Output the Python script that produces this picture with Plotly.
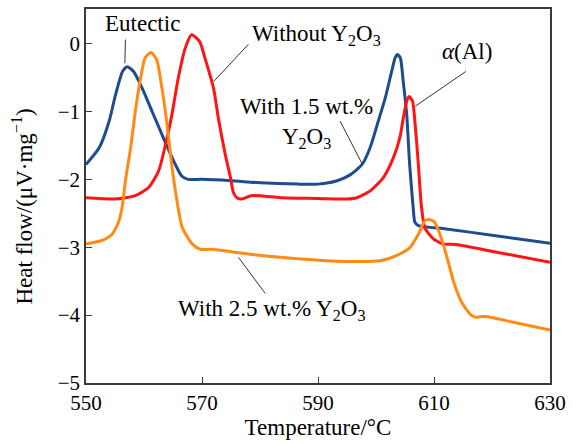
import plotly.graph_objects as go

# Temperature (°C) / heat flow (µV·mg^-1)
x_without = [550, 555.1, 558.5, 560.8, 562.5, 563.6, 564.8, 565.9, 567.1, 568.2, 569.6, 570.5,
             571.2, 572.0, 572.9, 574.0, 574.9, 575.4, 576.0, 576.8, 578.5, 583.6, 590, 595,
             596.7, 599.0, 601.3, 603.0, 604.1, 604.7, 605.3, 605.7, 606.3, 606.7, 607.3, 607.8,
             608.4, 609.8, 611.5, 613.8, 620.6, 630]
y_without = [-2.27, -2.29, -2.24, -2.12, -1.88, -1.53, -1.05, -0.51, -0.07, 0.13, 0.03, -0.21,
             -0.41, -0.66, -1.14, -1.63, -1.97, -2.19, -2.27, -2.29, -2.24, -2.27, -2.28, -2.29,
             -2.27, -2.17, -1.97, -1.68, -1.39, -1.10, -0.85, -0.78, -0.85, -1.14, -1.78, -2.37,
             -2.71, -2.87, -2.95, -2.96, -3.07, -3.22]

x_15 = [550, 552.3, 554.0, 555.1, 556.3, 557.1, 558.2, 559.7, 561.4, 563.6, 565.4, 566.5,
        567.6, 570, 575, 580, 586.5, 590, 593.3, 595.6, 597.6, 599.0, 600.4, 601.6, 602.7,
        603.3, 603.7, 604.2, 604.7, 605.3, 605.8, 606.4, 606.7, 607.3, 612.1, 620.6, 630]
y_15 = [-1.78, -1.53, -1.14, -0.75, -0.41, -0.34, -0.41, -0.66, -1.0, -1.44, -1.78, -1.95,
        -2.0, -2.0, -2.02, -2.05, -2.07, -2.07, -2.02, -1.93, -1.78, -1.53, -1.14, -0.80, -0.41,
        -0.21, -0.16, -0.21, -0.56, -1.05, -1.78, -2.41, -2.63, -2.68, -2.73, -2.83, -2.94]

x_25 = [550, 552.8, 554.5, 555.7, 556.3, 556.8, 557.7, 558.5, 559.4, 560.2, 561.2, 562.2,
        563.1, 563.9, 564.7, 565.5, 566.6, 568.3, 569.7, 571.7, 578.0, 586.5, 595, 600.7,
        603.6, 605.8, 607.3, 608.4, 609.1, 610.1, 611.2, 612.4, 613.5, 614.9, 616.4, 617.2,
        618.9, 623.5, 630]
y_25 = [-2.95, -2.90, -2.81, -2.61, -2.37, -2.02, -1.53, -1.0, -0.51, -0.21, -0.13, -0.24,
        -0.66, -1.14, -1.73, -2.22, -2.71, -2.95, -3.03, -3.03, -3.10, -3.17, -3.21, -3.20,
        -3.12, -3.01, -2.81, -2.61, -2.59, -2.63, -2.85, -3.20, -3.54, -3.83, -4.0, -4.03,
        -4.02, -4.10, -4.22]

x_ticks = [550, 570, 590, 610, 630]
y_ticks = [0, -1, -2, -3, -4, -5]

FONT = "Liberation Serif, Times New Roman, serif"
AX = "#3a3a3a"

fig = go.Figure()
series = [
    (x_15, y_15, "With 1.5 wt.% Y2O3", "#1d4c90"),
    (x_without, y_without, "Without Y2O3", "#ff1414"),
    (x_25, y_25, "With 2.5 wt.% Y2O3", "#ff8a14"),
]
for xs, ys, nm, col in series:
    fig.add_trace(go.Scatter(x=xs, y=ys, mode="lines", name=nm,
                             line=dict(color=col, width=3, shape="spline", smoothing=0.6)))

# leader lines
leaders = [
    (556.8, 0.06, 556.7, -0.29),
    (578.0, -0.01, 572.0, -0.56),
    (593.8, -1.14, 597.6, -1.77),
    (615.5, -0.41, 606.8, -0.92),
    (580.9, -3.68, 576.3, -3.15),
]
for x0, y0, x1, y1 in leaders:
    fig.add_shape(type="line", x0=x0, y0=y0, x1=x1, y1=y1, xref="x", yref="y",
                  line=dict(color="#333333", width=1))

ann = [
    (559.7, 0.29, "Eutectic", "center"),
    (578.3, 0.13, "Without Y<sub>2</sub>O<sub>3</sub>", "left"),
    (588.0, -1.17, "With 1.5 wt.%<br>Y<sub>2</sub>O<sub>3</sub>", "center"),
    (615.7, -0.12, "<i>α</i>(Al)", "center"),
    (581.9, -3.93, "With 2.5 wt.% Y<sub>2</sub>O<sub>3</sub>", "center"),
]
for ax_, ay_, txt, xa in ann:
    fig.add_annotation(x=ax_, y=ay_, text=txt, showarrow=False, xanchor=xa, yanchor="middle",
                       align="center", font=dict(family=FONT, size=23, color="black"))

# y-axis title (placed as rotated text, slightly below axis centre as in the reference)
fig.add_annotation(xref="paper", yref="paper", x=-0.137, y=0.473, textangle=-90,
                   text="Heat flow/(μV·mg<sup>−1</sup>)", showarrow=False,
                   xanchor="center", yanchor="middle",
                   font=dict(family=FONT, size=23, color="black"))

fig.update_xaxes(range=[550, 630], tickvals=x_ticks, ticks="inside", ticklen=6,
                 tickcolor=AX, showline=True, linecolor=AX, linewidth=1.5, mirror=True,
                 showgrid=False, zeroline=False,
                 tickfont=dict(family=FONT, size=21, color="black"),
                 title=dict(text="Temperature/°C", font=dict(family=FONT, size=23, color="black"),
                            standoff=0))
fig.update_yaxes(range=[-5, 0.51], tickvals=y_ticks, ticks="inside", ticklen=6,
                 tickcolor=AX, showline=True, linecolor=AX, linewidth=1.5, mirror=True,
                 showgrid=False, zeroline=False,
                 tickfont=dict(family=FONT, size=21, color="black"))
fig.update_layout(width=573, height=444, margin=dict(l=86, r=18, t=7, b=61),
                  plot_bgcolor="white", paper_bgcolor="white", showlegend=False)

fig.write_html("out.html")
